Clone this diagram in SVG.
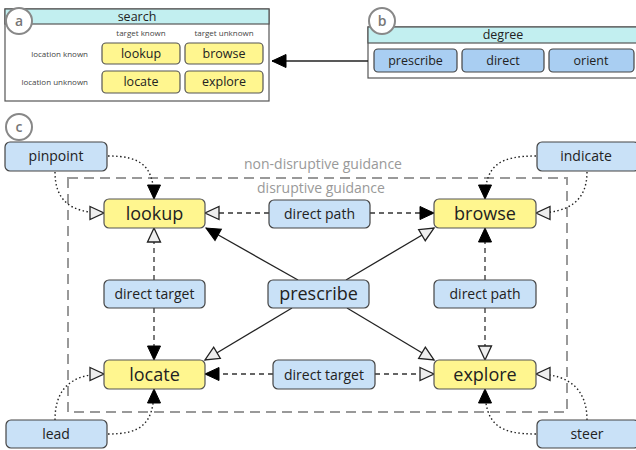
<svg xmlns="http://www.w3.org/2000/svg" width="636" height="450" viewBox="0 0 636 450">
<defs>
<style>
text{font-family:"Open Sans","DejaVu Sans",sans-serif;fill:#222;text-anchor:middle}
.y{fill:#fff68f;stroke:#555;stroke-width:1.2}
.b{fill:#c9e1f7;stroke:#444;stroke-width:1.2}
.bd{fill:#a9cef2;stroke:#444;stroke-width:1.2}
.hd{fill:#c2eff0;stroke:#555;stroke-width:1.2}
.panel{fill:#fff;stroke:#555;stroke-width:1.2}
.circ{fill:#fff;stroke:#888;stroke-width:2}
.lbl{font-size:14px;font-weight:600;fill:#777}
.small{font-size:8px;fill:#444}
.s12{font-size:12.5px}
.s14{font-size:14px}
.s17{font-size:18px}
.solid{fill:none;stroke:#222;stroke-width:1.3}
.dash{fill:none;stroke:#333;stroke-width:1.3;stroke-dasharray:5,4}
.dot{fill:none;stroke:#222;stroke-width:1.4;stroke-dasharray:1.5,2.5}
.grp{fill:none;stroke:#999;stroke-width:2;stroke-dasharray:10,6}
.gt{font-size:14px;fill:#999}
</style>
<marker id="af" markerUnits="userSpaceOnUse" markerWidth="16" markerHeight="15" refX="14" refY="6.5" orient="auto" overflow="visible"><path d="M0,0 L14,6.5 L0,13 z" fill="#000" stroke="#000" stroke-width="1"/></marker>
<marker id="ah" markerUnits="userSpaceOnUse" markerWidth="16" markerHeight="15" refX="14" refY="6.5" orient="auto" overflow="visible"><path d="M0,0 L14,6.5 L0,13 z" fill="#eee" stroke="#222" stroke-width="1.3"/></marker>
</defs>
<rect width="636" height="450" fill="#fff"/>

<!-- Panel a -->
<g id="panel-a">
<rect class="panel" x="5" y="9" width="264" height="92"/>
<rect class="hd" x="5" y="9" width="264" height="15"/>
<text class="s12" x="137" y="21">search</text>
<text class="small" x="141" y="36">target known</text>
<text class="small" x="224" y="36">target unknown</text>
<text class="small" x="88" y="57" style="text-anchor:end">location known</text>
<text class="small" x="88" y="85" style="text-anchor:end">location unknown</text>
<g id="a-lookup"><rect class="y" x="102" y="43" width="78" height="21" rx="4"/><text class="s12" x="141" y="58">lookup</text></g>
<g id="a-browse"><rect class="y" x="185" y="43" width="78" height="21" rx="4"/><text class="s12" x="224" y="58">browse</text></g>
<g id="a-locate"><rect class="y" x="102" y="71" width="78" height="22" rx="4"/><text class="s12" x="141" y="86">locate</text></g>
<g id="a-explore"><rect class="y" x="185" y="71" width="78" height="22" rx="4"/><text class="s12" x="224" y="86">explore</text></g>
<circle class="circ" cx="19" cy="21" r="13"/><text class="lbl" x="19" y="26">a</text>
</g>

<!-- Panel b -->
<g id="panel-b">
<rect class="panel" x="368" y="27" width="272" height="51"/>
<rect class="hd" x="368" y="27" width="272" height="16"/>
<text class="s12" x="503" y="39">degree</text>
<g id="b-prescribe"><rect class="bd" x="374" y="49" width="83" height="23" rx="4"/><text class="s12" x="415.5" y="65">prescribe</text></g>
<g id="b-direct"><rect class="bd" x="462" y="49" width="82" height="23" rx="4"/><text class="s12" x="503" y="65">direct</text></g>
<g id="b-orient"><rect class="bd" x="549" y="49" width="85" height="23" rx="4"/><text class="s12" x="591" y="65">orient</text></g>
<circle class="circ" cx="382" cy="21" r="13"/><text class="lbl" x="382" y="26">b</text>
</g>

<!-- Panel c group -->
<g id="panel-c">
<circle class="circ" cx="19" cy="127" r="13"/><text class="lbl" x="19" y="132">c</text>
<rect class="grp" x="68" y="178" width="499" height="234"/>
<text class="gt" x="323" y="169">non-disruptive guidance</text>
<text class="gt" x="321" y="193">disruptive guidance</text>
</g>

<!-- Connectors -->
<g id="connectors">
<line class="solid" x1="368" y1="61" x2="272" y2="61" marker-end="url(#af)"/>
<path class="dot" d="M108,156 C140,156 154,165 154,199" marker-end="url(#af)"/>
<path class="dot" d="M55,172 C55,200 70,213 104,213" marker-end="url(#ah)"/>
<path class="dot" d="M536,156 C500,156 485,165 485,199" marker-end="url(#af)"/>
<path class="dot" d="M587,172 C587,200 570,213 536,213" marker-end="url(#ah)"/>
<path class="dot" d="M55,420 C55,390 70,374 104,374" marker-end="url(#ah)"/>
<path class="dot" d="M108,434 C140,434 154,425 154,389" marker-end="url(#af)"/>
<path class="dot" d="M587,420 C587,390 570,374 536,374" marker-end="url(#ah)"/>
<path class="dot" d="M536,434 C500,434 485,425 485,389" marker-end="url(#af)"/>
<line class="dash" x1="269" y1="213" x2="205" y2="213" marker-end="url(#ah)"/>
<line class="dash" x1="370" y1="213" x2="434" y2="213" marker-end="url(#af)"/>
<line class="dash" x1="273" y1="374" x2="205" y2="374" marker-end="url(#af)"/>
<line class="dash" x1="375" y1="374" x2="434" y2="374" marker-end="url(#ah)"/>
<line class="dash" x1="154" y1="280" x2="154" y2="228" marker-end="url(#ah)"/>
<line class="dash" x1="154" y1="308" x2="154" y2="360" marker-end="url(#af)"/>
<line class="dash" x1="485" y1="280" x2="485" y2="228" marker-end="url(#af)"/>
<line class="dash" x1="485" y1="308" x2="485" y2="360" marker-end="url(#ah)"/>
<line class="solid" x1="298" y1="280" x2="206" y2="228" marker-end="url(#af)"/>
<line class="solid" x1="346" y1="280" x2="434" y2="228" marker-end="url(#ah)"/>
<line class="solid" x1="292" y1="308" x2="205" y2="360" marker-end="url(#ah)"/>
<line class="solid" x1="347" y1="308" x2="434" y2="360" marker-end="url(#ah)"/>
</g>

<!-- Nodes -->
<g id="pinpoint"><rect class="b" x="5" y="142" width="102" height="29" rx="5"/><text class="s14" x="56" y="161">pinpoint</text></g>
<g id="indicate"><rect class="b" x="537" y="142" width="102" height="29" rx="5"/><text class="s14" x="586" y="161">indicate</text></g>
<g id="lead"><rect class="b" x="6" y="420" width="101" height="28" rx="5"/><text class="s14" x="56" y="439">lead</text></g>
<g id="steer"><rect class="b" x="537" y="420" width="102" height="28" rx="5"/><text class="s14" x="587" y="439">steer</text></g>
<g id="lookup"><rect class="y" x="104" y="199" width="101" height="29" rx="5"/><text class="s17" x="154.5" y="220">lookup</text></g>
<g id="browse"><rect class="y" x="434" y="199" width="102" height="29" rx="5"/><text class="s17" x="485" y="220">browse</text></g>
<g id="locate"><rect class="y" x="104" y="360" width="101" height="29" rx="5"/><text class="s17" x="154.5" y="381">locate</text></g>
<g id="explore"><rect class="y" x="434" y="360" width="102" height="29" rx="5"/><text class="s17" x="485" y="381">explore</text></g>
<g id="direct-path-top"><rect class="b" x="269" y="200" width="101" height="28" rx="5"/><text class="s14" x="319.5" y="219">direct path</text></g>
<g id="direct-target-left"><rect class="b" x="104" y="280" width="101" height="28" rx="5"/><text class="s14" x="154.5" y="299">direct target</text></g>
<g id="prescribe"><rect class="b" x="268" y="280" width="101" height="28" rx="5"/><text class="s17" x="318.5" y="300">prescribe</text></g>
<g id="direct-path-right"><rect class="b" x="434" y="280" width="102" height="28" rx="5"/><text class="s14" x="485" y="299">direct path</text></g>
<g id="direct-target-bottom"><rect class="b" x="273" y="360" width="102" height="29" rx="5"/><text class="s14" x="324" y="380">direct target</text></g>
</svg>
